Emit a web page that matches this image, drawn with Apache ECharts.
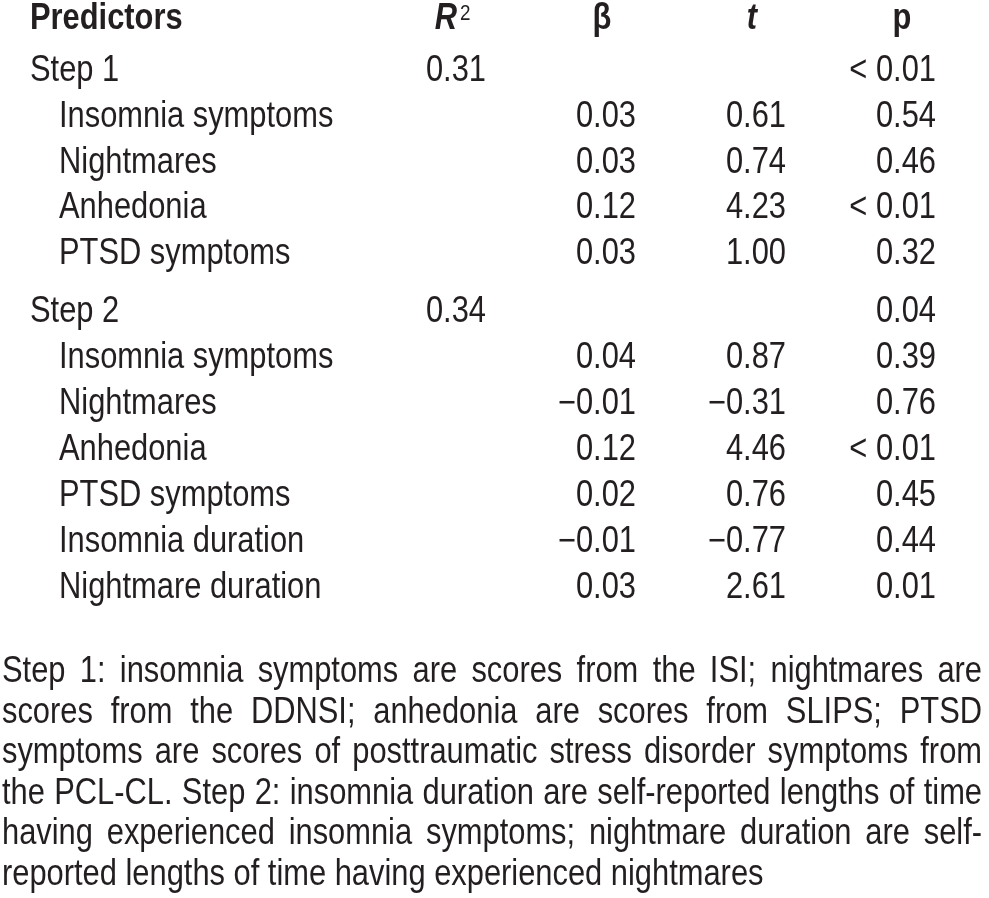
<!DOCTYPE html>
<html>
<head>
<meta charset="utf-8">
<script src="https://cdn.jsdelivr.net/npm/echarts@6/dist/echarts.min.js"></script>
<style>
html,body{margin:0;padding:0;background:#ffffff;}
#chart{width:989px;height:898px;}
</style>
</head>
<body>
<div id="chart"></div>
<script>
// ---------------- data ----------------
const headerLabels = ['Predictors', 'R2', 'β', 't', 'p'];
const valueColumns = ['R2', 'beta', 't', 'p'];

const step1Predictors = ['Step 1', 'Insomnia symptoms', 'Nightmares', 'Anhedonia', 'PTSD symptoms'];
const step1R2   = [0.31, null, null, null, null];
const step1Beta = [null, 0.03, 0.03, 0.12, 0.03];
const step1T    = [null, 0.61, 0.74, 4.23, 1.00];
const step1P    = ['< 0.01', '0.54', '0.46', '< 0.01', '0.32'];

const step2Predictors = ['Step 2', 'Insomnia symptoms', 'Nightmares', 'Anhedonia', 'PTSD symptoms', 'Insomnia duration', 'Nightmare duration'];
const step2R2   = [0.34, null, null, null, null, null, null];
const step2Beta = [null, 0.04, -0.01, 0.12, 0.02, -0.01, 0.03];
const step2T    = [null, 0.87, -0.31, 4.46, 0.76, -0.77, 2.61];
const step2P    = ['0.04', '0.39', '0.76', '< 0.01', '0.45', '0.44', '0.01'];

const footnoteLines = [
  'Step 1: insomnia symptoms are scores from the ISI; nightmares are',
  'scores from the DDNSI; anhedonia are scores from SLIPS; PTSD',
  'symptoms are scores of posttraumatic stress disorder symptoms from',
  'the PCL-CL. Step 2: insomnia duration are self-reported lengths of time',
  'having experienced insomnia symptoms; nightmare duration are self-',
  'reported lengths of time having experienced nightmares'
];

// ---------------- style / layout ----------------
const FAMILY = '"Liberation Sans", Arial, Helvetica, sans-serif';
const FS = 36, SX = 0.857, INK = '#231f20';
const GRID_LEFT = 386, GRID_W = 600;
const NUM_DX = 25, HEAD_DX = -9, STEP_X = 30, ITEM_X = 59;

function fmtNum(v) {
  if (v === null || v === undefined) return null;
  const s = Math.abs(v).toFixed(2);
  return v < 0 ? '\u2212' + s : s;
}

function buildCells(preds, r2, beta, t, p) {
  const cells = [];
  preds.forEach((name, i) => {
    cells.push({ kind: i === 0 ? 'step' : 'item', col: 0, row: i, text: name });
    [r2[i], beta[i], t[i]].forEach((v, k) => {
      const s = fmtNum(v);
      if (s !== null) cells.push({ kind: 'num', col: k, row: i, text: s });
    });
    if (p[i]) cells.push({ kind: 'num', col: 3, row: i, text: p[i] });
  });
  return cells;
}

function txt(x, y, text, extra) {
  return {
    type: 'text', x: x, y: y, scaleX: SX, silent: true,
    style: Object.assign({
      text: text, fill: INK, fontSize: FS, fontFamily: FAMILY,
      align: 'left', verticalAlign: 'middle'
    }, extra || {})
  };
}

function tableRenderer(cells) {
  return function (params, api) {
    const c = cells[params.dataIndex];
    const pt = api.coord([api.value(0), api.value(1)]);
    if (c.kind === 'step') return txt(STEP_X, pt[1], c.text);
    if (c.kind === 'item') return txt(ITEM_X, pt[1], c.text);
    return txt(pt[0] + NUM_DX, pt[1], c.text, { align: 'right' });
  };
}

const headerCells = headerLabels.map((h, i) => ({ col: Math.max(0, i - 1), row: 0, text: h, first: i === 0 }));
function headerRenderer(params, api) {
  const c = headerCells[params.dataIndex];
  const pt = api.coord([api.value(0), api.value(1)]);
  const y = pt[1];
  const bold = { fontWeight: 'bold' };
  if (c.first) return txt(STEP_X, y, c.text, bold);
  const cx = pt[0] + HEAD_DX;
  if (c.text === 'R2') {
    return {
      type: 'group', children: [
        txt(cx + 5, y, 'R', { fontWeight: 'bold', fontStyle: 'italic', align: 'right' }),
        txt(cx + 8, y - 6, '2', { fontSize: 22, align: 'left' })
      ]
    };
  }
  if (c.text === 't') return txt(cx, y, 't', { fontWeight: 'bold', fontStyle: 'italic', align: 'center' });
  return txt(cx, y, c.text, { fontWeight: 'bold', align: 'center' });
}

const cells1 = buildCells(step1Predictors, step1R2, step1Beta, step1T, step1P);
const cells2 = buildCells(step2Predictors, step2R2, step2Beta, step2T, step2P);

// ---------------- footnote (justified) ----------------
const mc = document.createElement('canvas').getContext('2d');
mc.font = FS + 'px ' + FAMILY;
const FOOT_L = 2, FOOT_R = 982, FOOT_Y0 = 672, FOOT_DY = 40.6;
const graphics = [];
footnoteLines.forEach((line, li) => {
  const words = line.split(' ');
  const ws = words.map(w => mc.measureText(w).width * SX);
  const total = ws.reduce((a, b) => a + b, 0);
  const last = li === footnoteLines.length - 1;
  const gap = last ? mc.measureText(' ').width * SX : (FOOT_R - FOOT_L - total) / (words.length - 1);
  let x = FOOT_L;
  words.forEach((w, i) => {
    graphics.push({
      type: 'text', x: x, y: FOOT_Y0 + li * FOOT_DY, scaleX: SX, silent: true,
      style: { text: w, fill: INK, fontSize: FS, fontFamily: FAMILY, align: 'left', verticalAlign: 'middle' }
    });
    x += ws[i] + gap;
  });
});

// ---------------- chart ----------------
const chart = echarts.init(document.getElementById('chart'), null, { renderer: 'canvas' });
const xCat = (gi) => ({ type: 'category', gridIndex: gi, data: valueColumns, show: false });
chart.setOption({
  animation: false,
  backgroundColor: '#ffffff',
  grid: [
    { left: GRID_LEFT, width: GRID_W, top: 9.5, height: 20 },
    { left: GRID_LEFT, width: GRID_W, top: 48.7, height: 228 },
    { left: GRID_LEFT, width: GRID_W, top: 289.5, height: 321.4 }
  ],
  xAxis: [xCat(0), xCat(1), xCat(2)],
  yAxis: [
    { type: 'category', gridIndex: 0, data: ['header'], inverse: true, show: false },
    { type: 'category', gridIndex: 1, data: step1Predictors, inverse: true, show: false },
    { type: 'category', gridIndex: 2, data: step2Predictors, inverse: true, show: false }
  ],
  series: [
    { type: 'custom', xAxisIndex: 0, yAxisIndex: 0, clip: false, renderItem: headerRenderer,
      data: headerCells.map(c => [c.col, c.row]) },
    { type: 'custom', xAxisIndex: 1, yAxisIndex: 1, clip: false, renderItem: tableRenderer(cells1),
      data: cells1.map(c => [c.col, c.row]) },
    { type: 'custom', xAxisIndex: 2, yAxisIndex: 2, clip: false, renderItem: tableRenderer(cells2),
      data: cells2.map(c => [c.col, c.row]) }
  ],
  graphic: graphics
});
</script>
</body>
</html>
